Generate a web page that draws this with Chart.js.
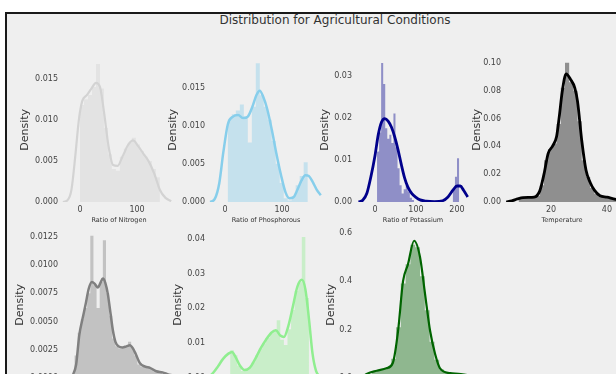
<!DOCTYPE html>
<html>
<head>
<meta charset="utf-8">
<script src="https://cdn.jsdelivr.net/npm/chart.js@4/dist/chart.umd.min.js"></script>
<style>
  html, body { margin: 0; padding: 0; background: #ffffff; width: 616px; height: 374px; overflow: hidden; position: relative; }
  #frame { position: absolute; left: 5px; top: 12px; width: 660px; height: 420px; background: #efefef;
           border-left: 2px solid #1a1a1a; border-top: 2px solid #1a1a1a; }
  #suptitle { position: absolute; left: 0; top: 13px; width: 670px; text-align: center;
              font: 12px "DejaVu Sans"; line-height: 14px; color: #333333; }
  canvas { position: absolute; }
</style>
</head>
<body>
<div id="frame"></div>
<div id="suptitle">Distribution for Agricultural Conditions</div>
<canvas id="c1" width="166" height="179" style="left:10px;top:49px"></canvas>
<canvas id="c2" width="166" height="179" style="left:157px;top:49px"></canvas>
<canvas id="c3" width="166" height="179" style="left:304px;top:49px"></canvas>
<canvas id="c4" width="166" height="179" style="left:453px;top:49px"></canvas>
<canvas id="c5" width="166" height="181" style="left:10px;top:223px"></canvas>
<canvas id="c6" width="166" height="181" style="left:157px;top:223px"></canvas>
<canvas id="c7" width="166" height="181" style="left:304px;top:223px"></canvas>
<script>
// ---- Nitrogen ----
const nitrogenKdeX = [-30, -22, -15, -8, -2, 4, 12, 20, 28, 35, 42, 50, 58, 66, 75, 85, 93, 102, 112, 120, 130, 140, 150, 160];
const nitrogenKdeY = [0.0000, 0.0002, 0.0015, 0.0058, 0.0100, 0.0123, 0.0130, 0.0138, 0.0145, 0.0140, 0.0110, 0.0068, 0.0045, 0.0044, 0.0056, 0.0070, 0.0075, 0.0068, 0.0058, 0.0050, 0.0035, 0.0015, 0.0005, 0.0001];
const nitrogenBinX = [-3.5, 3.5, 10.5, 17.5, 24.5, 31.5, 38.5, 45.5, 52.5, 59.5, 66.5, 73.5, 80.5, 87.5, 94.5, 101.5, 108.5, 115.5, 122.5, 129.5, 136.5, 143.5];
const nitrogenBinY = [0, 0.0118, 0.0125, 0.0130, 0.0140, 0.0168, 0.0138, 0.0090, 0.0058, 0.0040, 0.0038, 0.0055, 0.0065, 0.0072, 0.0078, 0.0070, 0.0062, 0.0055, 0.0050, 0.0040, 0.0030, 0];
const nitrogenXTicks = [0, 100];
const nitrogenYTicks = [0, 0.005, 0.010, 0.015];

// ---- Phosphorous ----
const phosphorousKdeX = [-26, -18, -10, -3, 5, 14, 23, 32, 40, 48, 55, 61, 67, 74, 82, 90, 98, 106, 113, 120, 127, 134, 141, 147, 154, 161, 168];
const phosphorousKdeY = [0.0000, 0.0004, 0.0025, 0.0065, 0.0102, 0.0112, 0.0114, 0.0110, 0.0112, 0.0125, 0.0140, 0.0146, 0.0138, 0.0122, 0.0095, 0.0064, 0.0036, 0.0013, 0.0005, 0.0006, 0.0016, 0.0028, 0.0035, 0.0034, 0.0026, 0.0016, 0.0009];
const phosphorousBinX = [1.5, 8.5, 15.5, 22.5, 29.5, 36.5, 43.5, 50.5, 57.5, 64.5, 71.5, 78.5, 85.5, 92.5, 99.5, 106.5, 113.5, 120.5, 127.5, 134.5, 141.5, 148.5];
const phosphorousBinY = [0, 0.0108, 0.0115, 0.0120, 0.0128, 0.0112, 0.0078, 0.0125, 0.0182, 0.0140, 0.0125, 0.0108, 0.0080, 0.0050, 0.0025, 0.0005, 0.0002, 0.0008, 0.0022, 0.0034, 0.0052, 0];
const phosphorousXTicks = [0, 100];
const phosphorousYTicks = [0, 0.005, 0.010, 0.015];

// ---- Potassium ----
const potassiumKdeX = [-40, -30, -20, -10, 0, 8, 16, 24, 32, 40, 48, 56, 64, 72, 80, 90, 100, 110, 125, 145, 165, 178, 190, 200, 208, 216, 226];
const potassiumKdeY = [0.0000, 0.0004, 0.0020, 0.0060, 0.0110, 0.0160, 0.0190, 0.0198, 0.0192, 0.0178, 0.0155, 0.0125, 0.0090, 0.0058, 0.0036, 0.0020, 0.0011, 0.0005, 0.0002, 0.0001, 0.0003, 0.0012, 0.0028, 0.0038, 0.0038, 0.0028, 0.0012];
const potassiumBinX = [2.5, 7.5, 12.5, 17.5, 22.5, 27.5, 32.5, 37.5, 42.5, 47.5, 52.5, 57.5, 62.5, 67.5, 72.5, 77.5, 82.5, 87.5, 92.5, 97.5, 187.5, 192.5, 197.5, 202.5, 207.5];
const potassiumBinY = [0, 0.0120, 0.0165, 0.0330, 0.0280, 0.0175, 0.0150, 0.0160, 0.0140, 0.0210, 0.0130, 0.0080, 0.0040, 0.0020, 0.0030, 0.0040, 0.0025, 0.0010, 0.0005, 0, 0, 0.0030, 0.0060, 0.0104, 0];
const potassiumXTicks = [0, 100, 200];
const potassiumYTicks = [0, 0.01, 0.02, 0.03];

// ---- Temperature ----
const temperatureKdeX = [4, 6, 8, 10, 12, 14, 16, 17.5, 19, 20.5, 22, 23, 24, 25.4, 27, 28.5, 29.5, 31, 32.5, 34, 35.5, 37.5, 40, 42, 44];
const temperatureKdeY = [0.0000, 0.0008, 0.0022, 0.0032, 0.0033, 0.0035, 0.0080, 0.0200, 0.0350, 0.0400, 0.0470, 0.0620, 0.0790, 0.0920, 0.0880, 0.0820, 0.0720, 0.0440, 0.0230, 0.0140, 0.0085, 0.0045, 0.0035, 0.0025, 0.0015];
const temperatureBinX = [7.75, 9.25, 10.75, 12.25, 13.75, 15.25, 16.75, 18.25, 19.75, 21.25, 22.75, 24.25, 25.75, 27.25, 28.75, 30.25, 31.75, 33.25, 34.75, 36.25, 37.75, 39.25, 40.75, 42.25, 43.75, 45.25];
const temperatureBinY = [0, 0.0025, 0.0030, 0.0032, 0.0030, 0.0045, 0.0120, 0.0300, 0.0380, 0.0420, 0.0560, 0.0820, 0.1000, 0.0860, 0.0800, 0.0580, 0.0300, 0.0180, 0.0100, 0.0060, 0.0040, 0.0035, 0.0030, 0.0025, 0.0015, 0];
const temperatureXTicks = [20, 40];
const temperatureYTicks = [0, 0.02, 0.04, 0.06, 0.08, 0.10];

// ---- Rainfall ----
const rainfallKdeX = [0, 15, 25, 35, 45, 55, 65, 75, 85, 94, 102, 110, 118, 126, 134, 142, 150, 160, 172, 185, 196, 206, 215, 228, 245, 260, 280, 300, 320, 340];
const rainfallKdeY = [0.0000, 0.0003, 0.0012, 0.0038, 0.0052, 0.0065, 0.0079, 0.0085, 0.0083, 0.0080, 0.0084, 0.0088, 0.0084, 0.0074, 0.0058, 0.0042, 0.0032, 0.0028, 0.0027, 0.0028, 0.0029, 0.0026, 0.0021, 0.0013, 0.0010, 0.0009, 0.0006, 0.0005, 0.0003, 0.0002];
const rainfallBinX = [15, 25, 35, 45, 55, 65, 75, 85, 95, 105, 115, 125, 135, 145, 155, 165, 175, 185, 195, 205, 215, 225, 235, 245, 255, 265, 275, 285, 295, 305];
const rainfallBinY = [0, 0.0020, 0.0040, 0.0052, 0.0062, 0.0075, 0.0126, 0.0082, 0.0062, 0.0085, 0.0122, 0.0075, 0.0055, 0.0035, 0.0028, 0.0026, 0.0027, 0.0028, 0.0032, 0.0026, 0.0020, 0.0012, 0.0010, 0.0010, 0.0009, 0.0008, 0.0006, 0.0006, 0.0005, 0];
const rainfallXTicks = [0, 100, 200, 300];
const rainfallYTicks = [0, 0.0025, 0.0050, 0.0075, 0.0100, 0.0125];

// ---- Humidity ----
const humidityKdeX = [-9, -5, 0, 6, 12, 16, 20, 25, 30, 36, 42, 48, 54, 60, 65, 70, 74, 79, 84, 89, 94, 98, 102, 106, 110, 114, 117];
const humidityKdeY = [0.0005, 0.0015, 0.0032, 0.0055, 0.0070, 0.0075, 0.0060, 0.0035, 0.0023, 0.0030, 0.0055, 0.0085, 0.0110, 0.0130, 0.0137, 0.0122, 0.0118, 0.0150, 0.0205, 0.0262, 0.0282, 0.0255, 0.0170, 0.0070, 0.0020, 0.0005, 0.0001];
const humidityBinX = [12, 16, 20, 24, 28, 32, 36, 40, 44, 48, 52, 56, 60, 64, 68, 72, 76, 80, 84, 88, 92, 96, 100, 104];
const humidityBinY = [0, 0.0080, 0.0065, 0.0035, 0.0020, 0.0022, 0.0030, 0.0045, 0.0065, 0.0085, 0.0100, 0.0115, 0.0128, 0.0135, 0.0166, 0.0110, 0.0095, 0.0140, 0.0195, 0.0250, 0.0275, 0.0405, 0.0230, 0];
const humidityXTicks = [0, 50, 100];
const humidityYTicks = [0, 0.01, 0.02, 0.03, 0.04];

// ---- pH ----
const phKdeX = [2.8, 3.2, 3.5, 4.1, 4.7, 5.1, 5.43, 5.74, 6.05, 6.43, 6.8, 7.11, 7.43, 7.74, 8.05, 8.68, 9.2, 9.74];
const phKdeY = [0.000, 0.005, 0.018, 0.030, 0.040, 0.062, 0.195, 0.400, 0.470, 0.567, 0.500, 0.350, 0.195, 0.100, 0.040, 0.020, 0.017, 0.012];
const phBinX = [3.35, 3.65, 3.95, 4.25, 4.55, 4.85, 5.15, 5.45, 5.75, 6.05, 6.35, 6.65, 6.95, 7.25, 7.55, 7.85, 8.15, 8.45, 8.75, 9.05, 9.35, 9.65, 9.95];
const phBinY = [0, 0.015, 0.025, 0.032, 0.036, 0.045, 0.080, 0.210, 0.390, 0.470, 0.550, 0.540, 0.420, 0.280, 0.150, 0.075, 0.035, 0.022, 0.018, 0.016, 0.014, 0.012, 0];
const phXTicks = [4, 6, 8];
const phYTicks = [0, 0.2, 0.4, 0.6];

Chart.defaults.font.family = '"DejaVu Sans"';

// Panel setup: axis ranges, labels and colours for each subplot
const panels = [
  { id: 'c1', kx: nitrogenKdeX, ky: nitrogenKdeY, bx: nitrogenBinX, by: nitrogenBinY, xt: nitrogenXTicks, yt: nitrogenYTicks,
    xr: [-31.6, 168.4], ymax: 0.01754, dec: 3, xlabel: 'Ratio of Nitrogen',
    line: '#d3d3d3', fill: 'rgba(211,211,211,0.4)', lw: 2.2, titlePad: 8.4 },
  { id: 'c2', kx: phosphorousKdeX, ky: phosphorousKdeY, bx: phosphorousBinX, by: phosphorousBinY, xt: phosphorousXTicks, yt: phosphorousYTicks,
    xr: [-28.1, 171.9], ymax: 0.01891, dec: 3, xlabel: 'Ratio of Phosphorous',
    line: '#87ceeb', fill: 'rgba(135,206,235,0.4)', lw: 2.5, titlePad: 9.4 },
  { id: 'c3', kx: potassiumKdeX, ky: potassiumKdeY, bx: potassiumBinX, by: potassiumBinY, xt: potassiumXTicks, yt: potassiumYTicks,
    xr: [-46.3, 231.7], ymax: 0.03425, dec: 2, xlabel: 'Ratio of Potassium',
    line: '#00008b', fill: 'rgba(0,0,139,0.4)', lw: 2.8, titlePad: 14.4 },
  { id: 'c4', kx: temperatureKdeX, ky: temperatureKdeY, bx: temperatureBinX, by: temperatureBinY, xt: temperatureXTicks, yt: temperatureYTicks,
    xr: [3.57, 44.3], ymax: 0.1036, dec: 2, xlabel: 'Temperature',
    line: '#000000', fill: 'rgba(0,0,0,0.4)', lw: 2.8, titlePad: 17.4 },
  { id: 'c5', kx: rainfallKdeX, ky: rainfallKdeY, bx: rainfallBinX, by: rainfallBinY, xt: rainfallXTicks, yt: rainfallYTicks,
    xr: [-20, 342.7], ymax: 0.01294, dec: 4, xlabel: 'Rainfall',
    line: '#808080', fill: 'rgba(128,128,128,0.4)', lw: 2.5, titlePad: 3.4 },
  { id: 'c6', kx: humidityKdeX, ky: humidityKdeY, bx: humidityBinX, by: humidityBinY, xt: humidityXTicks, yt: humidityYTicks,
    xr: [-9.7, 117.7], ymax: 0.042, dec: 2, xlabel: 'Humidity',
    line: '#90ee90', fill: 'rgba(144,238,144,0.4)', lw: 2.5, titlePad: 14.4 },
  { id: 'c7', kx: phKdeX, ky: phKdeY, bx: phBinX, by: phBinY, xt: phXTicks, yt: phYTicks,
    xr: [2.8, 9.925], ymax: 0.604, dec: 1, xlabel: 'pH Level',
    line: '#006400', fill: 'rgba(0,100,0,0.4)', lw: 2.2, titlePad: 20.4 }
];

function drawPanel(p) {
  const kde = p.kx.map((x, i) => ({ x: x, y: p.ky[i] }));
  const hist = p.bx.map((x, i) => ({ x: x, y: p.by[i] }));
  new Chart(document.getElementById(p.id), {
    type: 'line',
    data: {
      datasets: [
        { data: kde, borderColor: p.line, borderWidth: p.lw, pointRadius: 0,
          cubicInterpolationMode: 'monotone', fill: false, order: 0 },
        { data: hist, stepped: 'middle', borderColor: 'rgba(0,0,0,0)', borderWidth: 0,
          backgroundColor: p.fill, fill: 'origin', pointRadius: 0, order: 1 }
      ]
    },
    options: {
      responsive: false,
      animation: false,
      devicePixelRatio: 1,
      layout: { padding: { top: 8, right: 0, bottom: 0, left: 0 } },
      plugins: { legend: { display: false }, tooltip: { enabled: false } },
      scales: {
        x: {
          type: 'linear', min: p.xr[0], max: p.xr[1],
          afterBuildTicks: s => { s.ticks = p.xt.map(v => ({ value: v })); },
          ticks: { font: { size: 8 }, color: '#444444', padding: 3, maxRotation: 0, autoSkip: false,
                   callback: v => String(v) },
          grid: { display: false, drawTicks: false },
          border: { display: false },
          title: { display: true, text: p.xlabel, font: { size: 6.5 }, color: '#333333',
                   padding: { top: 0, bottom: 3.4 } },
          afterFit: s => { s.height = 26; }
        },
        y: {
          min: 0, max: p.ymax,
          afterBuildTicks: s => { s.ticks = p.yt.map(v => ({ value: v })); },
          ticks: { font: { size: 8 }, color: '#444444', padding: 4,
                   callback: v => Number(v).toFixed(p.dec) },
          grid: { display: false, drawTicks: false },
          border: { display: false },
          title: { display: true, text: 'Density', font: { size: 11 }, color: '#333333',
                   padding: { top: p.titlePad, bottom: 0 } },
          afterFit: s => { s.width = 52; }
        }
      }
    }
  });
}

panels.forEach(drawPanel);
</script>
</body>
</html>
